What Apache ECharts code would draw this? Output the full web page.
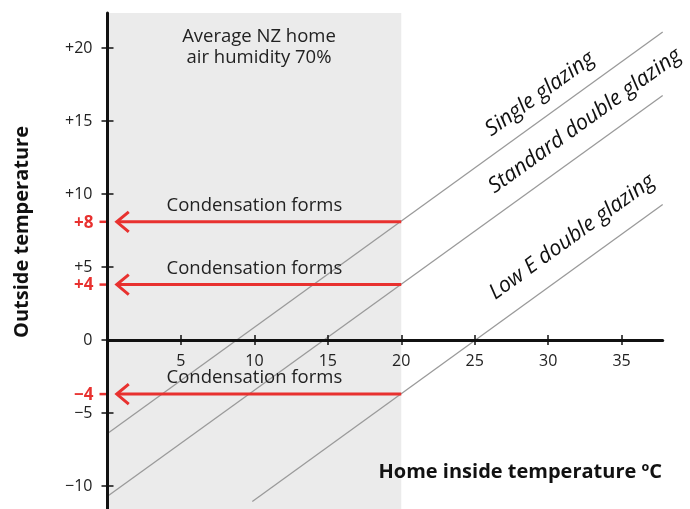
<!DOCTYPE html>
<html>
<head>
<meta charset="utf-8">
<script src="https://cdn.jsdelivr.net/npm/echarts@6/dist/echarts.min.js"></script>
<style>html,body{margin:0;padding:0;background:#fff}#c{width:690px;height:509px}</style>
</head>
<body>
<div id="c"></div>
<script>
// ---- data ----
const glazingNames = ['Single glazing', 'Standard double glazing', 'Low E double glazing'];
const singleGlazing = [[0, -6.4], [37.8, 21.1]];
const standardDoubleGlazing = [[0, -10.7], [37.8, 16.75]];
const lowEDoubleGlazing = [[9.86, -11.06], [37.8, 9.28]];
const condensationTemps = [8.1, 3.8, -3.7];
const condensationLabels = ['+8', '+4', '\u22124'];
const humidityRange = [0, 20];
const arrowTipX = 0.63;
const xTickValues = [5, 10, 15, 20, 25, 30, 35];
const yTickValues = [-10, -5, 0, 5, 10, 15, 20];
const yTickLabels = ['\u221210', '\u22125', '0', '+5', '+10', '+15', '+20'];

const FONT = '"Open Sans", sans-serif';
const RED = '#e8312f';
const LINE = '#9a9a9a';

const chart = echarts.init(document.getElementById('c'), null, {renderer: 'canvas'});

const axisCommon = {
  type: 'value',
  splitLine: {show: false},
  z: 10
};

const option = {
  animation: false,
  backgroundColor: '#fff',
  grid: {left: 107.5, right: 27.3, top: 13, bottom: 0, containLabel: false, outerBoundsMode: 'none'},
  xAxis: [
    Object.assign({}, axisCommon, {
      min: 0, max: 37.8, position: 'bottom', offset: 0,
      axisLine: {onZero: false, lineStyle: {color: '#111', width: 3}},
      axisTick: {customValues: xTickValues, length: 5, inside: false, lineStyle: {color: '#111', width: 1.5}},
      axisLabel: {customValues: xTickValues, margin: 13, fontFamily: FONT, fontSize: 16, color: '#222'}
    }),
    Object.assign({}, axisCommon, {
      min: 0, max: 37.8, position: 'bottom', offset: 0,
      axisLine: {onZero: false, show: false},
      axisTick: {customValues: xTickValues, length: 5, inside: true, lineStyle: {color: '#111', width: 1.5}},
      axisLabel: {show: false}
    })
  ],
  yAxis: [
    Object.assign({}, axisCommon, {
      min: -11.57, max: 22.4, position: 'left',
      axisLine: {onZero: false, lineStyle: {color: '#111', width: 3}},
      axisTick: {customValues: yTickValues, length: 6, inside: false, lineStyle: {color: '#111', width: 1.5}},
      axisLabel: {
        customValues: yTickValues, margin: 15, fontFamily: FONT, fontSize: 16, color: '#222',
        formatter: v => yTickLabels[yTickValues.indexOf(Math.round(v))] || ''
      }
    }),
    Object.assign({}, axisCommon, {
      min: -11.57, max: 22.4, position: 'left',
      axisLine: {onZero: false, show: false},
      axisTick: {customValues: yTickValues, length: 6, inside: true, lineStyle: {color: '#111', width: 1.5}},
      axisLabel: {show: false}
    })
  ],
  series: [
    {
      type: 'line', name: glazingNames[0], data: singleGlazing, symbol: 'none',
      lineStyle: {color: LINE, width: 1.3}, z: 3,
      markArea: {
        silent: true,
        itemStyle: {color: '#ebebeb'},
        data: [[{xAxis: humidityRange[0]}, {xAxis: humidityRange[1]}]]
      }
    },
    {type: 'line', name: glazingNames[1], data: standardDoubleGlazing, symbol: 'none', lineStyle: {color: LINE, width: 1.3}, z: 3},
    {type: 'line', name: glazingNames[2], data: lowEDoubleGlazing, symbol: 'none', lineStyle: {color: LINE, width: 1.3}, z: 3},
    {
      type: 'custom', z: 5,
      data: condensationTemps.map(t => [humidityRange[1], t]),
      renderItem: function (params, api) {
        const y = api.value(1);
        const start = api.coord([api.value(0), y]);
        const tip = api.coord([arrowTipX, y]);
        const ax = api.coord([0, y]);
        const mid = api.coord([10, y]);
        return {
          type: 'group',
          children: [
            {type: 'line', shape: {x1: start[0], y1: start[1], x2: tip[0] + 1, y2: tip[1]}, style: {stroke: RED, lineWidth: 3}},
            {type: 'polyline', shape: {points: [[tip[0] + 12, tip[1] - 10], [tip[0], tip[1]], [tip[0] + 12, tip[1] + 10]]}, style: {stroke: RED, lineWidth: 3, fill: null}},
            {type: 'line', shape: {x1: ax[0] - 8, y1: ax[1], x2: ax[0], y2: ax[1]}, style: {stroke: RED, lineWidth: 2.5}},
            {type: 'text', x: ax[0] - 14, y: ax[1] + 1, style: {text: condensationLabels[params.dataIndex], align: 'right', verticalAlign: 'middle', font: 'bold 17px ' + FONT, fill: RED}},
            {type: 'text', x: mid[0], y: mid[1] - 16, style: {text: 'Condensation forms', align: 'center', verticalAlign: 'middle', font: '18.5px ' + FONT, fill: '#222'}}
          ]
        };
      }
    }
  ],
  graphic: [
    {type: 'text', z: 100, x: 259, y: 47, style: {text: 'Average NZ home\nair humidity 70%', align: 'center', verticalAlign: 'middle', font: '18.5px ' + FONT, fill: '#222', lineHeight: 21}},
    {type: 'text', z: 100, x: 22, y: 232, rotation: Math.PI / 2, style: {text: 'Outside temperature', align: 'center', verticalAlign: 'middle', font: 'bold 20px ' + FONT, fill: '#111'}},
    {type: 'text', z: 100, x: 662, y: 472, style: {text: 'Home inside temperature \u00BAC', align: 'right', verticalAlign: 'middle', font: 'bold 20px ' + FONT, fill: '#111'}},
    {type: 'text', z: 100, x: 540, y: 94, rotation: 0.625, style: {text: glazingNames[0], align: 'center', verticalAlign: 'middle', font: 'italic 21.5px ' + FONT, fill: '#111'}},
    {type: 'text', z: 100, x: 585, y: 121, rotation: 0.625, style: {text: glazingNames[1], align: 'center', verticalAlign: 'middle', font: 'italic 21.5px ' + FONT, fill: '#111'}},
    {type: 'text', z: 100, x: 572, y: 237, rotation: 0.625, style: {text: glazingNames[2], align: 'center', verticalAlign: 'middle', font: 'italic 21.5px ' + FONT, fill: '#111'}}
  ]
};
chart.setOption(option);

// Place the x axis on the y = 0 line, measured through the library's own y scale.
const zeroY = chart.convertToPixel({yAxisIndex: 0}, 0);
const gridBottomY = chart.getHeight() - option.grid.bottom;
const xOffset = zeroY - gridBottomY;
chart.setOption({xAxis: [{offset: xOffset}, {offset: xOffset}]});
</script>
</body>
</html>
